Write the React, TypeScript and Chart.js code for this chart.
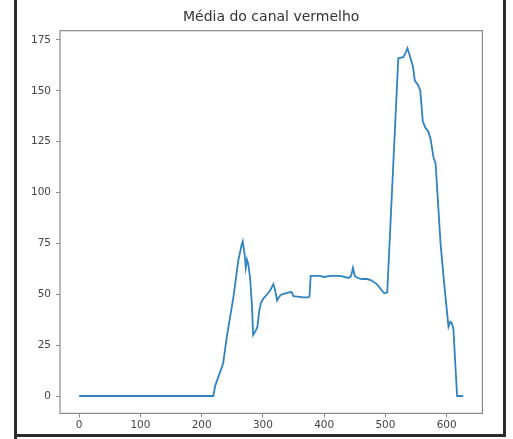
import React, { useEffect, useRef } from "react";
import { Chart, registerables } from "chart.js";

Chart.register(...registerables);

const titleText = "Média do canal vermelho";

const xValues = [
  0, 219, 222, 228, 235, 241, 252, 260, 265, 267, 270, 272, 274, 276, 279, 282, 284, 288, 291, 294,
  297, 301, 307, 312, 317, 320, 323, 327, 331, 344, 347, 350, 353, 366, 374, 376, 378, 393, 400, 410,
  426, 440, 444, 447, 450, 455, 461, 470, 476, 486, 494, 498, 503, 521, 529, 532, 536, 540, 545, 548,
  553, 557, 561, 565, 570, 574, 578, 582, 590, 596, 603, 606, 608, 611, 617, 627,
];
const yValues = [
  0, 0, 5, 10, 16, 29, 49, 67, 74, 76, 70, 63, 67, 65, 58, 45, 30, 32, 34, 42,
  46, 48, 50, 52, 55, 52, 47, 49, 50, 51, 51, 49, 49, 48.5, 48.5, 49, 59, 59, 58.5, 59,
  59, 58, 59, 63, 59, 58, 57.5, 57.5, 57, 55, 52, 50.5, 51, 166, 166.5, 168, 171, 167, 162, 155,
  153, 150, 135, 132, 130, 126, 118, 114, 75, 55, 34, 36.5, 36, 33, 0, 0,
];

const xTicks = [0, 100, 200, 300, 400, 500, 600];
const yTicks = [0, 25, 50, 75, 100, 125, 150, 175];

const xMin = -31.35;
const xMax = 658.35;
const yMin = -8.55;
const yMax = 179.55;

export default function App() {
  const ref = useRef<HTMLCanvasElement>(null);

  useEffect(() => {
    if (!ref.current) return;
    const points = xValues.map((x, i) => ({ x, y: yValues[i] }));

    const framePlugin = {
      id: "frame",
      afterDraw(chart: any) {
        const { ctx, chartArea } = chart;
        ctx.save();
        ctx.strokeStyle = "#8a8a8a";
        ctx.lineWidth = 1.2;
        ctx.strokeRect(
          chartArea.left,
          chartArea.top,
          chartArea.right - chartArea.left,
          chartArea.bottom - chartArea.top
        );
        // title centred over the plot area
        ctx.fillStyle = "#333";
        ctx.font = "14px 'DejaVu Sans'";
        ctx.textAlign = "center";
        ctx.textBaseline = "middle";
        ctx.fillText(titleText, (chartArea.left + chartArea.right) / 2, 17);
        // screenshot border
        ctx.fillStyle = "#2b2b2b";
        ctx.fillRect(14, 0, 3, 439);
        ctx.fillRect(503, 0, 3, 437);
        ctx.fillRect(14, 434, 492, 3);
        ctx.restore();
      },
    };

    const chart = new Chart(ref.current, {
      type: "line",
      data: {
        datasets: [
          {
            data: points,
            borderColor: "#2f83c0",
            borderWidth: 1.8,
            pointRadius: 0,
            tension: 0,
            fill: false,
          },
        ],
      },
      options: {
        animation: false,
        responsive: false,
        maintainAspectRatio: false,
        layout: { padding: { left: 0, right: 30.6, top: 30.7, bottom: 0 } },
        plugins: {
          legend: { display: false },
          tooltip: { enabled: false },
          title: { display: false },
        },
        scales: {
          x: {
            type: "linear",
            min: xMin,
            max: xMax,
            afterBuildTicks: (scale: any) => {
              scale.ticks = xTicks.map((v) => ({ value: v }));
            },
            afterFit: (scale: any) => {
              scale.height = 25.6;
            },
            ticks: {
              color: "#444",
              font: { family: "DejaVu Sans", size: 10.5 },
              padding: 2,
              maxRotation: 0,
              autoSkip: false,
            },
            grid: {
              display: true,
              drawOnChartArea: false,
              drawTicks: true,
              tickLength: 4,
              color: "#8a8a8a",
            },
            border: { display: false },
          },
          y: {
            type: "linear",
            min: yMin,
            max: yMax,
            afterBuildTicks: (scale: any) => {
              scale.ticks = yTicks.map((v) => ({ value: v }));
            },
            afterFit: (scale: any) => {
              scale.width = 60;
            },
            ticks: {
              color: "#444",
              font: { family: "DejaVu Sans", size: 10.5 },
              padding: 5,
              autoSkip: false,
            },
            grid: {
              display: true,
              drawOnChartArea: false,
              drawTicks: true,
              tickLength: 4,
              color: "#8a8a8a",
            },
            border: { display: false },
          },
        },
      },
      plugins: [framePlugin],
    });

    return () => chart.destroy();
  }, []);

  return (
    <div
      style={{
        position: "fixed",
        left: 0,
        top: 0,
        width: 513,
        height: 439,
        background: "#fff",
      }}
    >
      <canvas ref={ref} width={513} height={439} style={{ width: 513, height: 439, display: "block" }} />
    </div>
  );
}
